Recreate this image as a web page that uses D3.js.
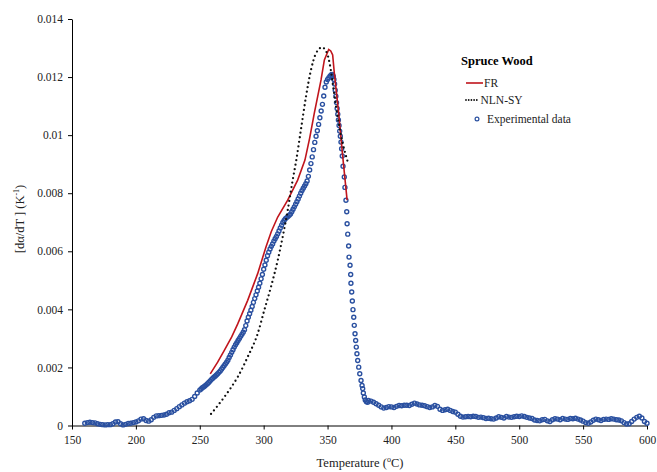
<!DOCTYPE html>
<html>
<head>
<meta charset="utf-8">
<script src="https://cdn.jsdelivr.net/npm/d3@7/dist/d3.min.js"></script>
<style>
body{margin:0;background:#fff}
text{font-family:"Liberation Serif","Times New Roman",serif}
</style>
</head>
<body>
<svg id="chart" width="657" height="472"></svg>
<script>
var xTicks = [150,200,250,300,350,400,450,500,550,600]
var yTicks = [0,0.002,0.004,0.006,0.008,0.01,0.012,0.014]
var yTickLabels = ["0","0.002","0.004","0.006","0.008","0.01","0.012","0.014"]

var seriesNames = ["FR","NLN-SY","Experimental data"]

// experimental points [T (C), da/dT (1/K)]
var expPoints = [
  [160,.00008],[162,.00010],[164,.00011],[166,.00010],[168,.00009],[170,.00006],[172,.00004],[174,.00003],[176,.00002],[178,.00003],
  [180,.00003],[182,.00006],[184,.00012],[186,.00013],[188,.00006],[190,.00002],[192,.00004],[194,.00007],[196,.00008],[198,.00010],
  [200,.00012],[202,.00016],[204,.00022],[206,.00023],[208,.00017],[210,.00015],[212,.00020],[214,.00028],[216,.00033],[218,.00034],
  [220,.00035],[222,.00036],[224,.00039],[226,.00044],[228,.00046],[230,.00052],[232,.00058],[234,.00065],[236,.00071],[238,.00077],
  [240,.00082],[242,.00085],[244,.00090],[246,.00100],[248,.00112],
  [250,.00122],[251,.00126],[252,.00130],[253,.00133],[254,.00136],[255,.00140],[256,.00144],[257,.00148],[258,.00153],[259,.00158],
  [260,.00162],[261,.00166],[262,.00170],[263,.00174],[264,.00178],[265,.00183],[266,.00188],[267,.00194],[268,.00200],[269,.00206],
  [270,.00212],[271,.00218],[272,.00225],[273,.00234],[274,.00243],[275,.00252],[276,.00261],[277,.00270],[278,.00278],[279,.00285],
  [280,.00293],[281,.00300],[282,.00307],[283,.00314],[284,.00321],[285,.00330],[286,.00344],[287,.00360],[288,.00373],[289,.00385],
  [290,.00397],[291,.00410],[292,.00424],[293,.00437],[294,.00450],[295,.00463],[296,.00476],[297,.00490],[298,.00505],[299,.00520],
  [300,.00538],[301,.00553],[302,.00569],[303,.00585],[304,.00597],[305,.00608],[306,.00617],[307,.00625],[308,.00635],[309,.00643],
  [310,.00651],[311,.00660],[312,.00670],[313,.00680],[314,.00690],[315,.00699],[316,.00706],[317,.00712],[318,.00716],[319,.00720],
  [320,.00724],[321,.00728],[322,.00736],[323,.00745],[324,.00753],[325,.00762],[326,.00771],[327,.00780],[328,.00790],[329,.00800],
  [330,.00809],[331,.00817],[332,.00825],[333,.00833],[334,.00842],[335,.00858],[336,.00880],[337,.00902],[338,.00925],[339,.00950],
  [340,.00975],[341,.00996],[342,.01015],[343,.01037],[344,.01060],[345,.01083],[346,.01106],[347,.01135],[348,.01165],[349,.01183],
  [350,.01192],[351,.01198],[352,.01204],[353,.01208],[353.5,.01209],[354,.01207],[354.5,.01202],[355,.01192],[355.5,.01176],[356,.01155],
  [356.5,.01134],[357,.01112],[357.5,.01092],[358,.01072],[358.5,.01052],[359,.01033],[359.5,.01014],[360,.00996],[360.5,.00976],[361,.00953],
  [361.5,.00928],[362.1,.00893],[363.1,.00856],[363.6,.00820],[364.4,.00776],[365.0,.00736],[365.3,.00695],[365.8,.00659],[366.5,.00618],[366.8,.00580],
  [367.6,.00552],[368.1,.00520],[368.3,.00490],[368.9,.00460],[369.4,.00429],[369.9,.00399],[370.5,.00373],[370.9,.00345],[371.5,.00316],[372.0,.00293],
  [372.5,.00270],[373.0,.00247],[373.6,.00224],[374.4,.00201],[375.2,.00178],[376.2,.00155],[377.0,.00138],[377.5,.00127],[378.0,.00112],[378.8,.00098],
  [379.5,.00088],[380.4,.00082],[381.4,.00080],[382,.00086],
  [384,.00084],[386,.00080],[388,.00075],[390,.00070],[392,.00064],[394,.00060],[396,.00062],[398,.00065],[400,.00064],[402,.00062],
  [404,.00066],[406,.00069],[408,.00068],[410,.00070],[412,.00070],[414,.00069],[416,.00073],[418,.00077],[420,.00074],[422,.00071],
  [424,.00070],[426,.00068],[428,.00065],[430,.00062],[432,.00064],[434,.00069],[436,.00066],[438,.00056],[440,.00052],[442,.00054],
  [444,.00056],[446,.00052],[448,.00048],[450,.00046],[452,.00039],[454,.00032],[456,.00029],[458,.00030],[460,.00031],[462,.00030],
  [464,.00032],[466,.00031],[468,.00028],[470,.00029],[472,.00027],[474,.00024],[476,.00025],[478,.00023],[480,.00022],[482,.00026],
  [484,.00030],[486,.00028],[488,.00026],[490,.00031],[492,.00029],[494,.00028],[496,.00030],[498,.00032],[500,.00031],[502,.00033],
  [504,.00031],[506,.00028],[508,.00026],[510,.00024],[512,.00019],[514,.00017],[516,.00016],[518,.00020],[520,.00021],[522,.00016],
  [524,.00014],[526,.00020],[528,.00023],[530,.00022],[532,.00020],[534,.00024],[536,.00022],[538,.00021],[540,.00024],[542,.00023],
  [544,.00025],[546,.00022],[548,.00019],[550,.00015],[552,.00010],[554,.00008],[556,.00012],[558,.00018],[560,.00022],[562,.00020],
  [564,.00017],[566,.00021],[568,.00022],[570,.00021],[572,.00023],[574,.00022],[576,.00020],[578,.00019],[580,.00016],[582,.00010],
  [584,.00005],[586,.00006],[588,.00014],[590,.00022],[592,.00028],[594,.00032],[596,.00026],[598,.00014],[600,.00008]
]

// FR model
var frPoints = [
  [258.2,.00178],[264,.00218],[269.2,.00259],[275,.00305],[279.7,.00350],[287.5,.00431],[295.3,.00523],[301.8,.00615],
  [306,.00668],[311.0,.00718],[318.8,.00776],[326.6,.00845],[332.3,.00914],[336,.00990],[339.6,.01075],[344.9,.01190],
  [347.5,.01259],[350.9,.01295],[352.5,.01290],[354.0,.01276],[355.3,.01213],[358.7,.01075],[361.9,.00925],[365.3,.00776]
]

// NLN-SY model
var nlnPoints = [
  [258.8,.00040],[264,.00068],[269.2,.00098],[274.5,.00131],[279.7,.00167],[287.5,.00236],[295.3,.00316],[300.5,.00397],
  [305.7,.00477],[311.0,.00569],[314.9,.00650],[318.8,.00741],[322.7,.00845],[325.3,.00908],[329.2,.01020],[333.1,.01132],
  [337.0,.01224],[341.0,.01282],[345.7,.01302],[349.6,.01282],[352.1,.01236],[354.8,.01155],[357.9,.01063],[361.9,.00971],[365.8,.00908]
]

var blue = "#2A50A0", red = "#C0151C"

var svg = d3.select("#chart")
var x = d3.scaleLinear().domain([150,600]).range([72,647])
var y = d3.scaleLinear().domain([0,0.014]).range([425.5,19])

var xAxis = d3.axisBottom(x).tickValues(xTicks).tickSize(4).tickSizeOuter(0).tickPadding(6)
var gx = svg.append("g").attr("transform","translate(0,425.5)").call(xAxis)

var yAxis = d3.axisLeft(y).tickValues(yTicks).tickSize(4).tickSizeOuter(0).tickPadding(5)
  .tickFormat(function(d,i){ return yTickLabels[i] })
var gy = svg.append("g").attr("transform","translate(72,0)").call(yAxis)

svg.selectAll(".tick text").attr("font-size","11.5px").attr("fill","#222")
  .style("font-family","'Liberation Serif',serif")
svg.selectAll(".domain, .tick line").attr("stroke","#000")

// experimental circles
svg.append("g").selectAll("circle").data(expPoints)
  .enter().append("circle")
  .attr("cx", function(d){ return x(d[0]) })
  .attr("cy", function(d){ return y(d[1]) })
  .attr("r", 2)
  .attr("fill","none")
  .attr("stroke", blue)
  .attr("stroke-width", 1.4)

var line = d3.line()
  .x(function(d){ return x(d[0]) })
  .y(function(d){ return y(d[1]) })

svg.append("path").datum(frPoints)
  .attr("d", line)
  .attr("fill","none").attr("stroke", red).attr("stroke-width", 1.6)

svg.append("path").datum(nlnPoints)
  .attr("d", line.curve(d3.curveMonotoneX))
  .attr("fill","none").attr("stroke","#111").attr("stroke-width", 2.3)
  .attr("stroke-dasharray","0,4.6").attr("stroke-linecap","round")

// legend
var lg = svg.append("g")
lg.append("text").attr("x",461).attr("y",65).attr("font-size","12.5px").attr("font-weight","bold").text("Spruce Wood")
lg.append("line").attr("x1",466).attr("x2",483).attr("y1",83).attr("y2",83).attr("stroke",red).attr("stroke-width",1.6)
lg.append("line").attr("x1",466).attr("x2",479).attr("y1",100).attr("y2",100)
  .attr("stroke","#111").attr("stroke-width",1.8).attr("stroke-dasharray","0,2.7").attr("stroke-linecap","round")
lg.append("circle").attr("cx",477).attr("cy",119).attr("r",1.9).attr("fill","none").attr("stroke",blue).attr("stroke-width",1.2)
lg.selectAll("text.item").data(seriesNames).enter().append("text").attr("class","item")
  .attr("x", function(d,i){ return [484,480.5,487][i] })
  .attr("y", function(d,i){ return [87,104,123][i] })
  .attr("font-size","11.5px").attr("fill","#222")
  .text(function(d){ return d })

// axis titles
var xt = svg.append("text").attr("x",360).attr("y",467).attr("text-anchor","middle").attr("font-size","12.5px").attr("fill","#222")
xt.append("tspan").text("Temperature (")
xt.append("tspan").attr("font-size","8px").attr("dy",-5).text("o")
xt.append("tspan").attr("dy",5).text("C)")

var yt = svg.append("text").attr("transform","translate(24,219) rotate(-90)").attr("text-anchor","middle").attr("font-size","12.5px").attr("fill","#222")
yt.append("tspan").text("[d\u03b1/dT ] (K")
yt.append("tspan").attr("font-size","8px").attr("dy",-5).text("-1")
yt.append("tspan").attr("dy",5).text(")")
</script>
</body>
</html>
